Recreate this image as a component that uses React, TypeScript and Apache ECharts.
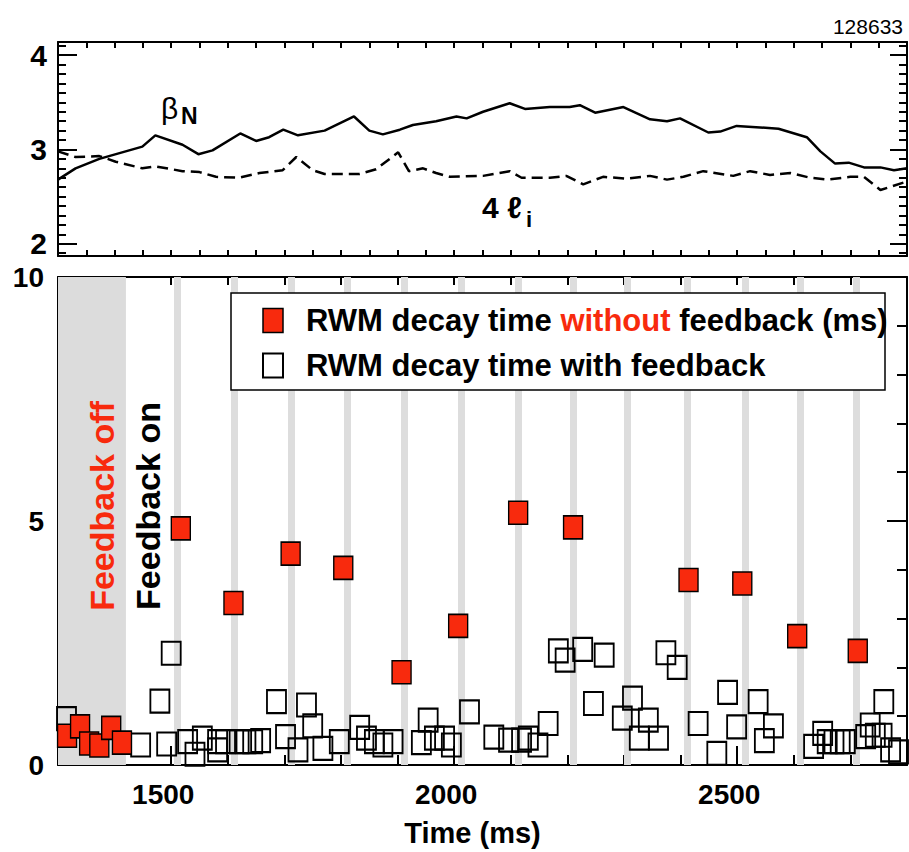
import React, { useEffect, useRef } from 'react';
import * as echarts from 'echarts';

const FONT = '"Liberation Sans", Arial, Helvetica, sans-serif';
const RED = '#f82a0d';

// ---- top panel: beta_N (solid) and 4 l_i (dashed) ----
const betaT = [1300, 1331, 1373, 1449, 1472, 1520, 1548, 1573, 1622, 1650, 1673, 1698, 1724, 1771, 1823, 1850, 1874, 1904, 1927, 1968, 2004, 2022, 2051, 2098, 2125, 2169, 2204, 2222, 2249, 2299, 2346, 2376, 2399, 2449, 2470, 2499, 2573, 2623, 2647, 2673, 2697, 2724, 2753, 2777, 2800];
const betaN = [2.68, 2.80, 2.90, 3.03, 3.15, 3.05, 2.95, 2.99, 3.17, 3.09, 3.13, 3.21, 3.15, 3.20, 3.35, 3.20, 3.16, 3.21, 3.26, 3.30, 3.35, 3.33, 3.40, 3.49, 3.43, 3.45, 3.45, 3.47, 3.39, 3.45, 3.32, 3.30, 3.33, 3.18, 3.19, 3.25, 3.22, 3.13, 2.98, 2.85, 2.86, 2.81, 2.81, 2.78, 2.80];

const liT = [1300, 1331, 1373, 1402, 1449, 1473, 1520, 1550, 1579, 1620, 1656, 1697, 1721, 1750, 1771, 1833, 1862, 1901, 1920, 1945, 1968, 1992, 2051, 2098, 2119, 2169, 2198, 2228, 2263, 2305, 2346, 2376, 2405, 2440, 2493, 2523, 2558, 2594, 2629, 2659, 2700, 2724, 2753, 2800];
const li4 = [2.98, 2.92, 2.93, 2.87, 2.80, 2.82, 2.77, 2.76, 2.71, 2.70, 2.75, 2.78, 2.92, 2.78, 2.74, 2.74, 2.79, 2.97, 2.77, 2.80, 2.75, 2.71, 2.72, 2.77, 2.70, 2.70, 2.72, 2.63, 2.71, 2.69, 2.72, 2.68, 2.71, 2.77, 2.72, 2.77, 2.73, 2.75, 2.70, 2.68, 2.71, 2.71, 2.57, 2.66];

// ---- bottom panel: RWM decay times ----
const offT = [1316, 1339, 1355, 1373, 1394, 1413, 1517, 1610, 1711, 1804, 1907, 2007, 2113, 2210, 2414, 2509, 2606, 2713];
const offV = [0.60, 0.79, 0.44, 0.40, 0.76, 0.46, 4.85, 3.32, 4.33, 4.04, 1.90, 2.85, 5.17, 4.87, 3.79, 3.72, 2.64, 2.34];

const onT = [1315, 1446, 1480, 1492, 1500, 1529, 1542, 1555, 1582, 1582, 1596, 1620, 1632, 1644, 1658, 1686, 1702, 1724, 1739, 1750, 1768, 1797, 1833, 1845, 1859, 1874, 1892, 1942, 1954, 1965, 1983, 1995, 2027, 2070, 2096, 2119, 2131, 2148, 2166, 2184, 2196, 2227, 2265, 2246, 2297, 2315, 2327, 2343, 2361, 2374, 2394, 2431, 2464, 2483, 2499, 2537, 2548, 2564, 2635, 2651, 2659, 2671, 2682, 2691, 2727, 2735, 2744, 2756, 2759, 2771, 2785];
const onV = [0.95, 0.41, 1.31, 0.43, 2.29, 0.48, 0.22, 0.55, 0.48, 0.31, 0.48, 0.48, 0.48, 0.48, 0.50, 1.30, 0.58, 0.31, 1.23, 0.80, 0.34, 0.48, 0.77, 0.55, 0.48, 0.41, 0.48, 0.46, 0.92, 0.55, 0.55, 0.41, 1.09, 0.57, 0.51, 0.51, 0.55, 0.41, 0.85, 2.34, 2.15, 2.37, 2.25, 1.26, 0.96, 1.37, 0.55, 0.92, 0.55, 2.30, 2.00, 0.85, 0.24, 1.49, 0.78, 1.30, 0.50, 0.80, 0.38, 0.65, 0.48, 0.48, 0.48, 0.48, 0.58, 0.82, 0.61, 0.61, 1.30, 0.31, 0.27];

// vertical grey markers (feedback-off pulses) and the feedback-off period
const pulseT = [1511, 1611, 1712, 1811, 1912, 2013, 2114, 2210, 2306, 2412, 2515, 2611, 2711];
const feedbackOffSpan = [1300, 1420];

// tick values
const xMajorTicks = [1500, 2000, 2500];
const yBottomMajor = [0, 5, 10];
const yTopLabels = [2, 3, 4];
const yTopMinor = [1.9, 2.0, 2.1, 2.2, 2.3, 2.4, 2.5, 2.6, 2.7, 2.8, 2.9, 3.0, 3.1, 3.2, 3.3, 3.4, 3.5, 3.6, 3.7, 3.8, 3.9, 4.0, 4.1];

const NAME_OFF = 'RWM decay time without feedback (ms)';
const NAME_ON = 'RWM decay time with feedback';

const zip = (a: number[], b: number[]) => a.map((v, i) => [v, b[i]]);

export default function App() {
  const ref = useRef<HTMLDivElement>(null);
  useEffect(() => {
    const chart = echarts.init(ref.current!, null, { renderer: 'svg' });
    const line = { show: true, onZero: false, lineStyle: { color: '#000', width: 2 } };
    const noLine = { show: false };
    const tick = (len: number, extra: any = {}) => ({ show: true, inside: true, length: len, lineStyle: { color: '#000', width: 2 }, ...extra });
    const noLabel = { show: false };
    const labelStyle = { color: '#000', fontSize: 28, fontWeight: 'bold', fontFamily: FONT, formatter: (v: number) => String(v) };
    const base = { type: 'value', splitLine: { show: false } };

    const option: any = {
      animation: false,
      backgroundColor: '#fff',
      grid: [
        { left: 58, top: 42, right: 2, height: 214, containLabel: false, outerBoundsMode: 'none' },
        { left: 58, top: 277, right: 2, bottom: 87, containLabel: false, outerBoundsMode: 'none' },
      ],
      xAxis: [
        {
          ...base, gridIndex: 1, position: 'bottom', min: 1300, max: 2800, interval: 100,
          axisLine: line, axisTick: tick(10),
          axisLabel: { ...labelStyle, customValues: xMajorTicks, margin: 15, padding: [0, 16, 0, 0] },
          name: 'Time (ms)', nameLocation: 'middle', nameGap: 53,
          nameTextStyle: { color: '#000', fontSize: 29, fontWeight: 'bold', fontFamily: FONT, padding: [0, 20, 0, 0] },
        },
        { ...base, gridIndex: 1, position: 'bottom', min: 1300, max: 2800, axisLine: noLine, axisTick: tick(19, { customValues: xMajorTicks }), axisLabel: noLabel },
        { ...base, gridIndex: 1, position: 'top', min: 1300, max: 2800, interval: 100, axisLine: line, axisTick: tick(8), axisLabel: noLabel },
        { ...base, gridIndex: 0, position: 'bottom', min: 1300, max: 2800, interval: 50, axisLine: line, axisTick: tick(6), axisLabel: noLabel },
        { ...base, gridIndex: 0, position: 'top', min: 1300, max: 2800, interval: 50, axisLine: line, axisTick: tick(6), axisLabel: noLabel },
      ],
      yAxis: [
        { ...base, gridIndex: 1, position: 'left', min: 0, max: 10, interval: 1, axisLine: line, axisTick: tick(10), axisLabel: { ...labelStyle, customValues: yBottomMajor, margin: 14 } },
        { ...base, gridIndex: 1, position: 'left', min: 0, max: 10, axisLine: noLine, axisTick: tick(20, { customValues: yBottomMajor }), axisLabel: noLabel },
        { ...base, gridIndex: 1, position: 'right', min: 0, max: 10, interval: 1, axisLine: line, axisTick: tick(10), axisLabel: noLabel },
        { ...base, gridIndex: 1, position: 'right', min: 0, max: 10, axisLine: noLine, axisTick: tick(20, { customValues: yBottomMajor }), axisLabel: noLabel },
        { ...base, gridIndex: 0, position: 'left', min: 1.87, max: 4.14, axisLine: line, axisTick: tick(8, { customValues: yTopMinor }), axisLabel: { ...labelStyle, fontSize: 30, customValues: yTopLabels, margin: 11 } },
        { ...base, gridIndex: 0, position: 'left', min: 1.87, max: 4.14, axisLine: noLine, axisTick: tick(19, { customValues: yTopLabels }), axisLabel: noLabel },
        { ...base, gridIndex: 0, position: 'right', min: 1.87, max: 4.14, axisLine: line, axisTick: tick(8, { customValues: yTopMinor }), axisLabel: noLabel },
        { ...base, gridIndex: 0, position: 'right', min: 1.87, max: 4.14, axisLine: noLine, axisTick: tick(17, { customValues: yTopLabels }), axisLabel: noLabel },
      ],
      legend: {
        orient: 'vertical', left: 262, top: 305, padding: 0, itemWidth: 20, itemHeight: 24, itemGap: 14,
        selectedMode: false, z: 20,
        data: [
          { name: NAME_OFF, icon: 'rect', itemStyle: { color: RED, borderColor: '#000', borderWidth: 1.5 } },
          { name: NAME_ON, icon: 'rect', itemStyle: { color: '#fff', borderColor: '#000', borderWidth: 2 } },
        ],
        formatter: (name: string) => name === NAME_OFF
          ? '{g|}{a|RWM decay time }{r|without}{a| feedback (ms)}'
          : '{g|}{a|' + name + '}',
        textStyle: {
          fontFamily: FONT, fontSize: 31, fontWeight: 'bold', color: '#000',
          rich: {
            g: { width: 18 },
            a: { fontFamily: FONT, fontSize: 31, fontWeight: 'bold', color: '#000' },
            r: { fontFamily: FONT, fontSize: 31, fontWeight: 'bold', color: RED },
          },
        },
      },
      graphic: [
        { type: 'rect', z: 15, shape: { x: 231, y: 293, width: 654, height: 97 }, style: { fill: '#fff', stroke: '#000', lineWidth: 1.5 } },
        { type: 'text', z: 15, x: 102, y: 506, rotation: Math.PI / 2, style: { text: 'Feedback off', fill: RED, font: `bold 34px ${FONT}`, align: 'center', verticalAlign: 'middle' } },
        { type: 'text', z: 15, x: 148, y: 506, rotation: Math.PI / 2, style: { text: 'Feedback on', fill: '#000', font: `bold 34px ${FONT}`, align: 'center', verticalAlign: 'middle' } },
        { type: 'text', z: 15, x: 161, y: 108, style: { text: 'β', fill: '#000', font: `30px ${FONT}`, align: 'left', verticalAlign: 'middle' } },
        { type: 'text', z: 15, x: 181, y: 116, style: { text: 'N', fill: '#000', font: `bold 23px ${FONT}`, align: 'left', verticalAlign: 'middle' } },
        { type: 'text', z: 15, x: 482, y: 207, style: { text: '4 ℓ', fill: '#000', font: `bold 30px ${FONT}`, align: 'left', verticalAlign: 'middle' } },
        { type: 'text', z: 15, x: 526, y: 219, style: { text: 'i', fill: '#000', font: `bold 22px ${FONT}`, align: 'left', verticalAlign: 'middle' } },
        { type: 'text', z: 15, x: 903, y: 26, style: { text: '128633', fill: '#000', font: `21px ${FONT}`, align: 'right', verticalAlign: 'middle' } },
      ],
      series: [
        {
          type: 'scatter', xAxisIndex: 0, yAxisIndex: 0, data: [], silent: true,
          markArea: { silent: true, z: 1, itemStyle: { color: '#dcdcdc' }, label: { show: false }, data: [[{ xAxis: feedbackOffSpan[0] }, { xAxis: feedbackOffSpan[1] }]] },
          markLine: { silent: true, z: 1, symbol: ['none', 'none'], label: { show: false }, emphasis: { disabled: true }, lineStyle: { color: '#dddddd', width: 7, type: 'solid' }, data: pulseT.map((t) => ({ xAxis: t })) },
        },
        {
          name: NAME_ON, type: 'scatter', xAxisIndex: 0, yAxisIndex: 0, z: 3, symbol: 'rect', symbolSize: [19, 23],
          itemStyle: { color: 'rgba(0,0,0,0)', borderColor: '#000', borderWidth: 2, opacity: 1 },
          data: zip(onT, onV),
        },
        {
          name: NAME_OFF, type: 'scatter', xAxisIndex: 0, yAxisIndex: 0, z: 4, symbol: 'rect', symbolSize: [19, 23],
          itemStyle: { color: RED, borderColor: '#000', borderWidth: 1.5, opacity: 1 },
          data: zip(offT, offV),
        },
        {
          name: 'beta_N', type: 'line', xAxisIndex: 3, yAxisIndex: 4, symbol: 'none', z: 3,
          lineStyle: { color: '#000', width: 2.5 }, data: zip(betaT, betaN),
        },
        {
          name: '4 l_i', type: 'line', xAxisIndex: 3, yAxisIndex: 4, symbol: 'none', z: 3,
          lineStyle: { color: '#000', width: 2.5, type: [11, 6] }, data: zip(liT, li4),
        },
      ],
    };
    chart.setOption(option);
    return () => chart.dispose();
  }, []);
  return <div ref={ref} style={{ position: 'fixed', left: 0, top: 0, width: 909, height: 852, background: '#fff' }} />;
}
